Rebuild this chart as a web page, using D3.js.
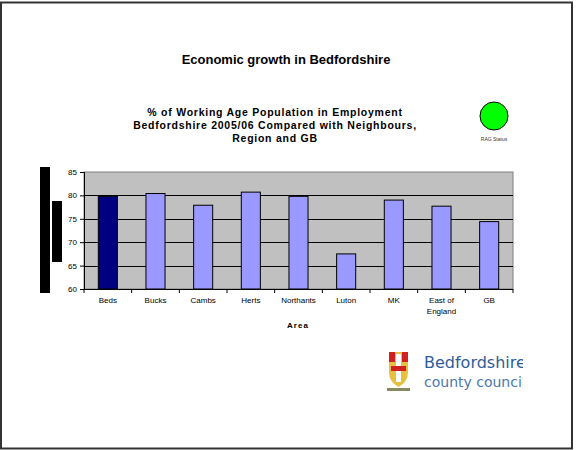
<!DOCTYPE html>
<html>
<head>
<meta charset="utf-8">
<script src="https://cdn.jsdelivr.net/npm/d3@7"></script>
<style>
  body { margin: 0; background: #fff; }
  svg { display: block; font-family: "Liberation Sans", Arial, sans-serif; }
</style>
</head>
<body>
<div id="chart"></div>
<script>
// dados
const categories = ["Beds", "Bucks", "Cambs", "Herts", "Northants", "Luton", "MK", "East of England", "GB"];
const values = [79.8, 80.4, 77.9, 80.7, 79.8, 67.5, 79.0, 77.7, 74.4];
const yTicks = [60, 65, 70, 75, 80, 85];
const titleText = "Economic growth in Bedfordshire";
const subtitleLines = ["% of Working Age Population in Employment", "Bedfordshire 2005/06 Compared with Neighbours,", "Region and GB"];

const W = 580, H = 450;
const svg = d3.select("#chart").append("svg")
    .attr("width", W)
    .attr("height", H);

// moldura do slide
svg.append("rect")
    .attr("x", 1).attr("y", 2.5)
    .attr("width", 571).attr("height", 446)
    .attr("fill", "#fff")
    .attr("stroke", "#333")
    .attr("stroke-width", 2);

svg.append("text")
    .attr("x", 286).attr("y", 64)
    .attr("text-anchor", "middle")
    .style("font-size", "13px")
    .style("font-weight", "bold")
    .text(titleText);

svg.append("g").selectAll("text")
    .data(subtitleLines)
    .enter().append("text")
    .attr("x", 275)
    .attr("y", (d, i) => 116 + i * 13)
    .attr("text-anchor", "middle")
    .style("font-size", "10.5px")
    .style("font-weight", "bold")
    .style("letter-spacing", "0.75px")
    .text(d => d);

// RAG status
svg.append("circle")
    .attr("cx", 494).attr("cy", 116).attr("r", 14)
    .attr("fill", "#00ff00")
    .attr("stroke", "#000")
    .attr("stroke-width", 1);
svg.append("text")
    .attr("x", 494).attr("y", 141)
    .attr("text-anchor", "middle")
    .style("font-size", "5px")
    .attr("fill", "#333")
    .text("RAG Status");

// blocos pretos à esquerda
svg.append("rect").attr("x", 40).attr("y", 167).attr("width", 10).attr("height", 126).attr("fill", "#000");
svg.append("rect").attr("x", 52).attr("y", 201).attr("width", 10).attr("height", 61).attr("fill", "#000");

const margin = { left: 84, top: 172, right: 513, bottom: 289 };

const x = d3.scaleBand()
    .domain(categories)
    .range([margin.left, margin.right])
    .paddingInner(0.6)
    .paddingOuter(0.3);

const y = d3.scaleLinear()
    .domain([60, 85])
    .range([margin.bottom, margin.top]);

svg.append("rect")
    .attr("x", margin.left).attr("y", margin.top)
    .attr("width", margin.right - margin.left)
    .attr("height", margin.bottom - margin.top)
    .attr("fill", "#c0c0c0")
    .attr("stroke", "#808080");

svg.append("g").selectAll("line")
    .data(yTicks.filter(t => t > 60 && t < 85))
    .enter().append("line")
    .attr("x1", margin.left).attr("x2", margin.right)
    .attr("y1", d => Math.round(y(d)) + 0.5)
    .attr("y2", d => Math.round(y(d)) + 0.5)
    .attr("stroke", "#000");

svg.append("g").selectAll("rect")
    .data(categories)
    .enter().append("rect")
    .attr("x", d => x(d))
    .attr("width", x.bandwidth())
    .attr("y", (d, i) => y(values[i]))
    .attr("height", (d, i) => y(60) - y(values[i]))
    .attr("fill", (d, i) => i === 0 ? "#000080" : "#9999ff")
    .attr("stroke", "#000")
    .attr("stroke-width", 1);

// eixo Y
const yAxis = svg.append("g")
    .attr("transform", `translate(${margin.left},0)`)
    .call(d3.axisLeft(y).tickValues(yTicks).tickSize(4).tickPadding(3));
yAxis.selectAll("text").style("font-size", "8px").attr("fill", "#000");
yAxis.select(".domain").attr("stroke", "#000");

// eixo X: marcas entre as categorias
const step = x.step();
const bottom = svg.append("g");
bottom.append("line")
    .attr("x1", margin.left).attr("x2", margin.right)
    .attr("y1", margin.bottom + 0.5).attr("y2", margin.bottom + 0.5)
    .attr("stroke", "#000");
bottom.selectAll(".tick")
    .data(d3.range(categories.length + 1))
    .enter().append("line")
    .attr("x1", i => margin.left + i * step)
    .attr("x2", i => margin.left + i * step)
    .attr("y1", margin.bottom)
    .attr("y2", margin.bottom + 4)
    .attr("stroke", "#000");

bottom.selectAll("text.cat")
    .data(categories)
    .enter().append("text")
    .attr("class", "cat")
    .attr("x", d => x(d) + x.bandwidth() / 2)
    .attr("y", 303)
    .attr("text-anchor", "middle")
    .style("font-size", "8px")
    .each(function(d) {
        const parts = d === "East of England" ? ["East of", "England"] : [d];
        parts.forEach((p, j) => {
            d3.select(this).append("tspan")
                .attr("x", x(d) + x.bandwidth() / 2)
                .attr("dy", j === 0 ? 0 : 11)
                .text(p);
        });
    });

svg.append("text")
    .attr("x", 298).attr("y", 328)
    .attr("text-anchor", "middle")
    .style("font-size", "8px")
    .style("font-weight", "bold")
    .style("letter-spacing", "1px")
    .text("Area");

// logotipo do conselho
const logo = svg.append("g");
logo.append("path")
    .attr("d", "M389,352 L408,352 L408,372 Q408,382 398.5,387 Q389,382 389,372 Z")
    .attr("fill", "#e8c040");
logo.append("rect").attr("x", 389).attr("y", 352).attr("width", 6).attr("height", 10).attr("fill", "#d02020");
logo.append("rect").attr("x", 402).attr("y", 352).attr("width", 6).attr("height", 10).attr("fill", "#d02020");
logo.append("rect").attr("x", 396).attr("y", 354).attr("width", 5).attr("height", 28).attr("fill", "#ffffff");
logo.append("rect").attr("x", 391).attr("y", 366).attr("width", 15).attr("height", 5).attr("fill", "#d02020");
logo.append("rect").attr("x", 387).attr("y", 388).attr("width", 23).attr("height", 3).attr("fill", "#8a8a60");
const clip = svg.append("clipPath").attr("id", "logoclip");
clip.append("rect").attr("x", 380).attr("y", 340).attr("width", 143).attr("height", 60);
const logoText = svg.append("g").attr("clip-path", "url(#logoclip)");
logoText.append("text")
    .attr("x", 424).attr("y", 368)
    .style("font-family", "'DejaVu Sans', sans-serif")
    .style("font-size", "16px")
    .attr("fill", "#2e5c9a")
    .text("Bedfordshire");
logoText.append("text")
    .attr("x", 424).attr("y", 387)
    .style("font-family", "'DejaVu Sans', sans-serif")
    .style("font-size", "14px")
    .attr("fill", "#4a78b0")
    .text("county council");
</script>
</body>
</html>
